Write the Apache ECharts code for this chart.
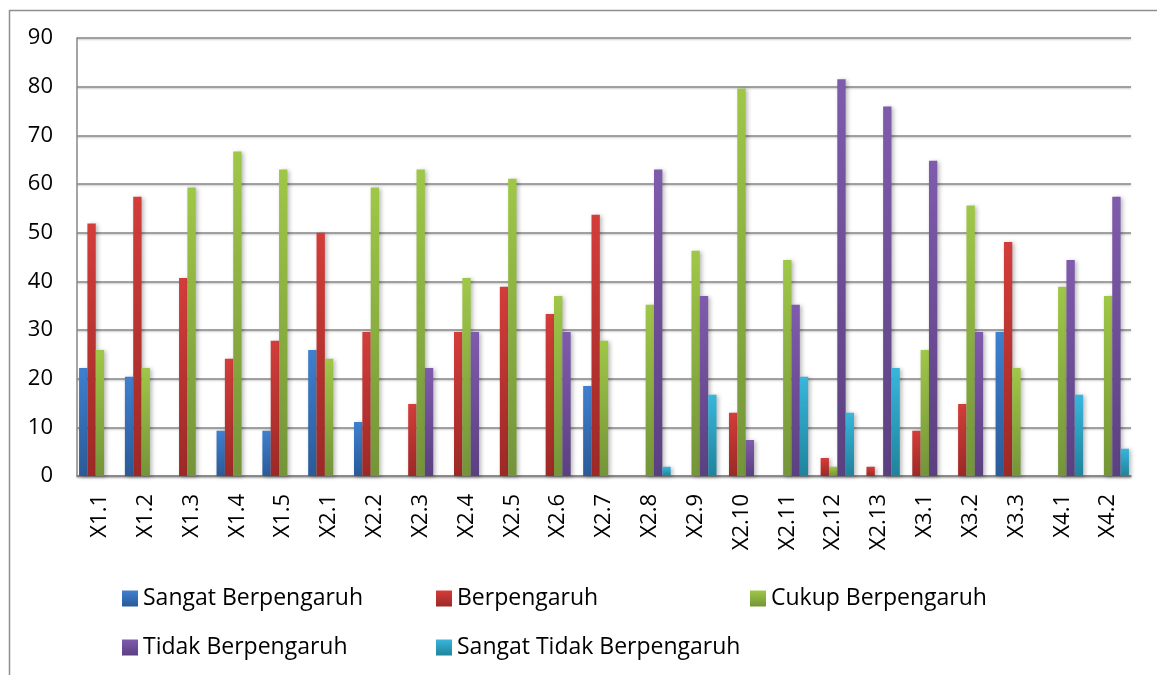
<!DOCTYPE html>
<html>
<head>
<meta charset="utf-8">
<title>Tingkat Pengaruh per Indikator</title>
<script src="https://cdn.jsdelivr.net/npm/echarts@6/dist/echarts.min.js"></script>
<style>
  html, body { margin: 0; padding: 0; background: #ffffff; }
  #chart { width: 1157px; height: 675px; }
</style>
</head>
<body>
<div id="chart"></div>
<script>
// Indicator codes along the category axis
const categories = ['X1.1','X1.2','X1.3','X1.4','X1.5','X2.1','X2.2','X2.3','X2.4','X2.5','X2.6','X2.7',
  'X2.8','X2.9','X2.10','X2.11','X2.12','X2.13','X3.1','X3.2','X3.3','X4.1','X4.2'];

// Percentage of respondents per answer category (null = no answers)
const sangatBerpengaruh      = [22.2, 20.4, null, 9.3, 9.3, 25.9, 11.1, null, null, null, null, 18.5, null, null, null, null, null, null, null, null, 29.6, null, null];
const berpengaruh            = [51.9, 57.4, 40.7, 24.1, 27.8, 50.0, 29.6, 14.8, 29.6, 38.9, 33.3, 53.7, null, null, 13.0, null, 3.7, 1.9, 9.3, 14.8, 48.1, null, null];
const cukupBerpengaruh       = [25.9, 22.2, 59.3, 66.7, 63.0, 24.1, 59.3, 63.0, 40.7, 61.1, 37.0, 27.8, 35.2, 46.3, 79.6, 44.4, 1.9, null, 25.9, 55.6, 22.2, 38.9, 37.0];
const tidakBerpengaruh       = [null, null, null, null, null, null, null, 22.2, 29.6, null, 29.6, null, 63.0, 37.0, 7.4, 35.2, 81.5, 75.9, 64.8, 29.6, null, 44.4, 57.4];
const sangatTidakBerpengaruh = [null, null, null, null, null, null, null, null, null, null, null, null, 1.9, 16.7, null, 20.4, 13.0, 22.2, null, null, null, 16.7, 5.6];

// Value axis ticks
const yMin = 0, yMax = 90, yStep = 10;

const seriesDefs = [
  { name: 'Sangat Berpengaruh',       data: sangatBerpengaruh,      top: '#3e80d0', bottom: '#2b5a97' },
  { name: 'Berpengaruh',              data: berpengaruh,            top: '#d33d3a', bottom: '#9c2926' },
  { name: 'Cukup Berpengaruh',        data: cukupBerpengaruh,       top: '#9fc747', bottom: '#749439' },
  { name: 'Tidak Berpengaruh',        data: tidakBerpengaruh,       top: '#7f5bad', bottom: '#5b4080' },
  { name: 'Sangat Tidak Berpengaruh', data: sangatTidakBerpengaruh, top: '#38b6db', bottom: '#20839c' }
];

const FONT = '"Open Sans", "Noto Sans", sans-serif';
const GRID_GRAY = '#878787';

function gradient(top, bottom) {
  return new echarts.graphic.LinearGradient(0, 0, 0, 1, [
    { offset: 0, color: top },
    { offset: 1, color: bottom }
  ]);
}

// Legend laid out as a 3-column, 2-row block
const legendPos = [
  { left: 122, top: 587 },
  { left: 436, top: 587 },
  { left: 750, top: 587 },
  { left: 122, top: 636 },
  { left: 436, top: 636 }
];

const chart = echarts.init(document.getElementById('chart'), null, { renderer: 'canvas' });

chart.setOption({
  animation: false,
  backgroundColor: '#ffffff',
  textStyle: { fontFamily: FONT },
  graphic: [{
    type: 'rect',
    left: 7, top: 8,
    shape: { width: 1300, height: 800 },
    style: { fill: 'none', stroke: '#8e8e8e', lineWidth: 1.5 },
    silent: true,
    z: -1
  }],
  grid: { left: 77, right: 26, top: 38, bottom: 199, containLabel: false },
  legend: seriesDefs.map((s, i) => ({
    data: [s.name],
    left: legendPos[i].left,
    top: legendPos[i].top,
    orient: 'horizontal',
    padding: 0,
    itemWidth: 16,
    itemHeight: 16,
    itemGap: 5,
    icon: 'rect',
    textStyle: { fontFamily: FONT, fontSize: 23, color: '#000000', padding: [0, 0, 0, 0] }
  })),
  xAxis: {
    type: 'category',
    data: categories,
    axisLine: { lineStyle: { color: GRID_GRAY, width: 1.5, shadowColor: 'rgba(0,0,0,0.25)', shadowBlur: 2, shadowOffsetY: 1 } },
    axisTick: { show: false },
    axisLabel: { rotate: 90, margin: 18, fontSize: 22, color: '#000000', fontFamily: FONT, interval: 0 }
  },
  yAxis: {
    type: 'value',
    min: yMin, max: yMax, interval: yStep,
    axisLine: { show: true, lineStyle: { color: GRID_GRAY, width: 1.5 } },
    axisTick: { show: false },
    axisLabel: { margin: 24, fontSize: 22, color: '#000000', fontFamily: FONT },
    splitLine: { lineStyle: { color: GRID_GRAY, width: 1.5, shadowColor: 'rgba(0,0,0,0.25)', shadowBlur: 2, shadowOffsetY: 1 } }
  },
  series: seriesDefs.map(s => ({
    name: s.name,
    type: 'bar',
    data: s.data,
    barGap: '0%',
    barCategoryGap: '9%',
    itemStyle: {
      color: gradient(s.top, s.bottom),
      shadowColor: 'rgba(0,0,0,0.28)',
      shadowBlur: 4,
      shadowOffsetX: 2,
      shadowOffsetY: 1
    },
    emphasis: { disabled: true }
  }))
});
</script>
</body>
</html>
